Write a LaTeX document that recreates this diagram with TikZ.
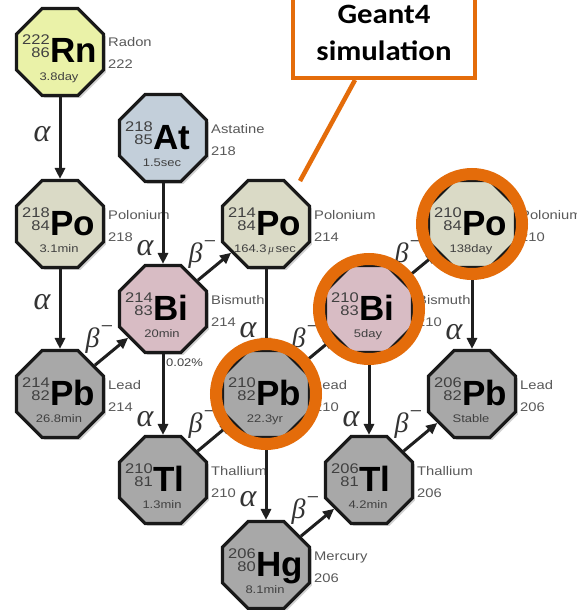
\documentclass[tikz,border=0pt]{standalone}
\usepackage{fontspec}
\setmainfont{Liberation Sans}
\newfontfamily\widesans[FakeStretch=1.18]{Liberation Sans}
\newfontfamily\calloutfont[FakeStretch=1.1]{Carlito}
\newfontfamily\greekit{Liberation Serif Italic}
\usetikzlibrary{shapes.geometric,arrows.meta,shadows}

\definecolor{rnfill}{HTML}{EAF2A8}
\definecolor{atfill}{HTML}{C3CFDA}
\definecolor{pofill}{HTML}{DADAC6}
\definecolor{bifill}{HTML}{D8BCC4}
\definecolor{pbfill}{HTML}{A8A8A8}
\definecolor{calloutorange}{HTML}{E46C0A}

% beta-minus symbol: the minus sits outside the box so the node centres on the beta
\newcommand\betaminus{β\rlap{\raisebox{0.5em}{\fontsize{22}{22}\selectfont −}}}

\begin{document}
\begin{tikzpicture}[x=1pt,y=-1pt,
  nucleus/.style={regular polygon, regular polygon sides=8, minimum size=94pt,
    inner sep=0pt, draw=black!90, line width=3.2pt,
    drop shadow={shadow xshift=2.5pt, shadow yshift=-2.5pt, opacity=0.35}},
  massnum/.style={font=\widesans\fontsize{14}{14}\selectfont, text=black!75, inner sep=0pt},
  symbol/.style={font=\bfseries\fontsize{35}{35}\selectfont, text=black, inner sep=0pt},
  halflife/.style={font=\widesans\fontsize{11}{11}\selectfont, text=black!75, inner sep=0pt},
  namelab/.style={font=\widesans\fontsize{12.5}{12.5}\selectfont, text=black!65, inner sep=0pt},
  decay/.style={draw=black!88, line width=3pt, -{Triangle[length=11pt,width=10pt]}},
  alphalab/.style={font=\greekit\fontsize{32}{32}\selectfont, text=black!80, inner sep=0pt, xshift=-18pt},
  betalab/.style={font=\greekit\fontsize{28}{28}\selectfont, text=black!80, inner sep=0pt, pos=0.5, xshift=-19pt, yshift=12pt},
  ring/.style={circle, draw=calloutorange, line width=12pt, minimum size=100pt, inner sep=0pt},
  calloutbox/.style={draw=calloutorange, line width=4pt, fill=white, minimum width=182pt,
    inner ysep=17pt, align=center, font=\calloutfont\bfseries\fontsize{28}{37}\selectfont}
]
\useasboundingbox[fill=white] (0,0) rectangle (576,610);

% nuclides of the chain: name / x / y / fill / A / Z / symbol / half-life / element
\foreach \nm/\px/\py/\col/\A/\Z/\sym/\half/\elem in {
  rn222/60/52/rnfill/222/86/Rn/3.8day/Radon,
  at218/163/138/atfill/218/85/At/1.5sec/Astatine,
  po218/60/224/pofill/218/84/Po/3.1min/Polonium,
  bi214/163/309/bifill/214/83/Bi/20min/Bismuth,
  pb214/60/394/pbfill/214/82/Pb/26.8min/Lead,
  po214/266/224/pofill/214/84/Po/{164.3\,{\greekit μ}\,sec}/Polonium,
  pb210/266/394/pbfill/210/82/Pb/22.3yr/Lead,
  bi210/369/309/bifill/210/83/Bi/5day/Bismuth,
  po210/472/224/pofill/210/84/Po/138day/Polonium,
  tl210/163/480/pbfill/210/81/Tl/1.3min/Thallium,
  tl206/369/480/pbfill/206/81/Tl/4.2min/Thallium,
  pb206/472/394/pbfill/206/82/Pb/Stable/Lead,
  hg206/266/565/pbfill/206/80/Hg/8.1min/Mercury}
{
  \node[nucleus, fill=\col] (\nm) at (\px,\py) {};
  \node[massnum, anchor=base east] (\nm-A) at (\px-10,\py-7) {\A};
  \node[massnum, anchor=base east] (\nm-Z) at (\px-10,\py+6) {\Z};
  \node[symbol, anchor=base west] (\nm-sym) at (\px-10,\py+11) {\sym};
  \node[halflife, anchor=base] (\nm-half) at (\px-1,\py+28) {\half};
  \node[namelab, anchor=base west] (\nm-name) at (\px+48,\py-5) {\elem};
  \node[namelab, anchor=base west] (\nm-num) at (\px+48,\py+17) {\A};
}

\node[halflife, anchor=base west] (branch) at (166,366) {0.02\%};

% alpha decays
\draw[decay] (rn222) -- node[alphalab, pos=0.45] {α} (po218);
\draw[decay] (po218) -- node[alphalab, pos=0.41] {α} (pb214);
\draw[decay] (at218) -- node[alphalab, pos=0.8] {α} (bi214);
\draw[decay] (bi214) -- node[alphalab, pos=0.8] {α} (tl210);
\draw[decay] (po214) -- node[alphalab, pos=0.76] {α} (pb210);
\draw[decay] (pb210) -- node[alphalab, pos=0.74] {α} (hg206);
\draw[decay] (bi210) -- node[alphalab, pos=0.8] {α} (tl206);
\draw[decay] (po210) -- node[alphalab, pos=0.79] {α} (pb206);

% beta decays
\draw[decay] (pb214) -- node[betalab] {\betaminus} (bi214);
\draw[decay] (bi214) -- node[betalab] {\betaminus} (po214);
\draw[decay] (tl210) -- node[betalab] {\betaminus} (pb210);
\draw[decay] (pb210) -- node[betalab] {\betaminus} (bi210);
\draw[decay] (bi210) -- node[betalab] {\betaminus} (po210);
\draw[decay] (tl206) -- node[betalab] {\betaminus} (pb206);
\draw[decay] (hg206) -- node[betalab] {\betaminus} (tl206);

% simulated nuclides
\foreach \nm in {pb210,bi210,po210}
  \node[ring] (ring-\nm) at (\nm) {};

% callout
\node[calloutbox, anchor=south] (geant) at (384,80) {Geant4\\simulation};
\coordinate (callout-from) at (355,80);
\coordinate (callout-to) at (300,181);
\draw[calloutorange, line width=4.5pt] (callout-from) -- (callout-to);
\end{tikzpicture}
\end{document}
